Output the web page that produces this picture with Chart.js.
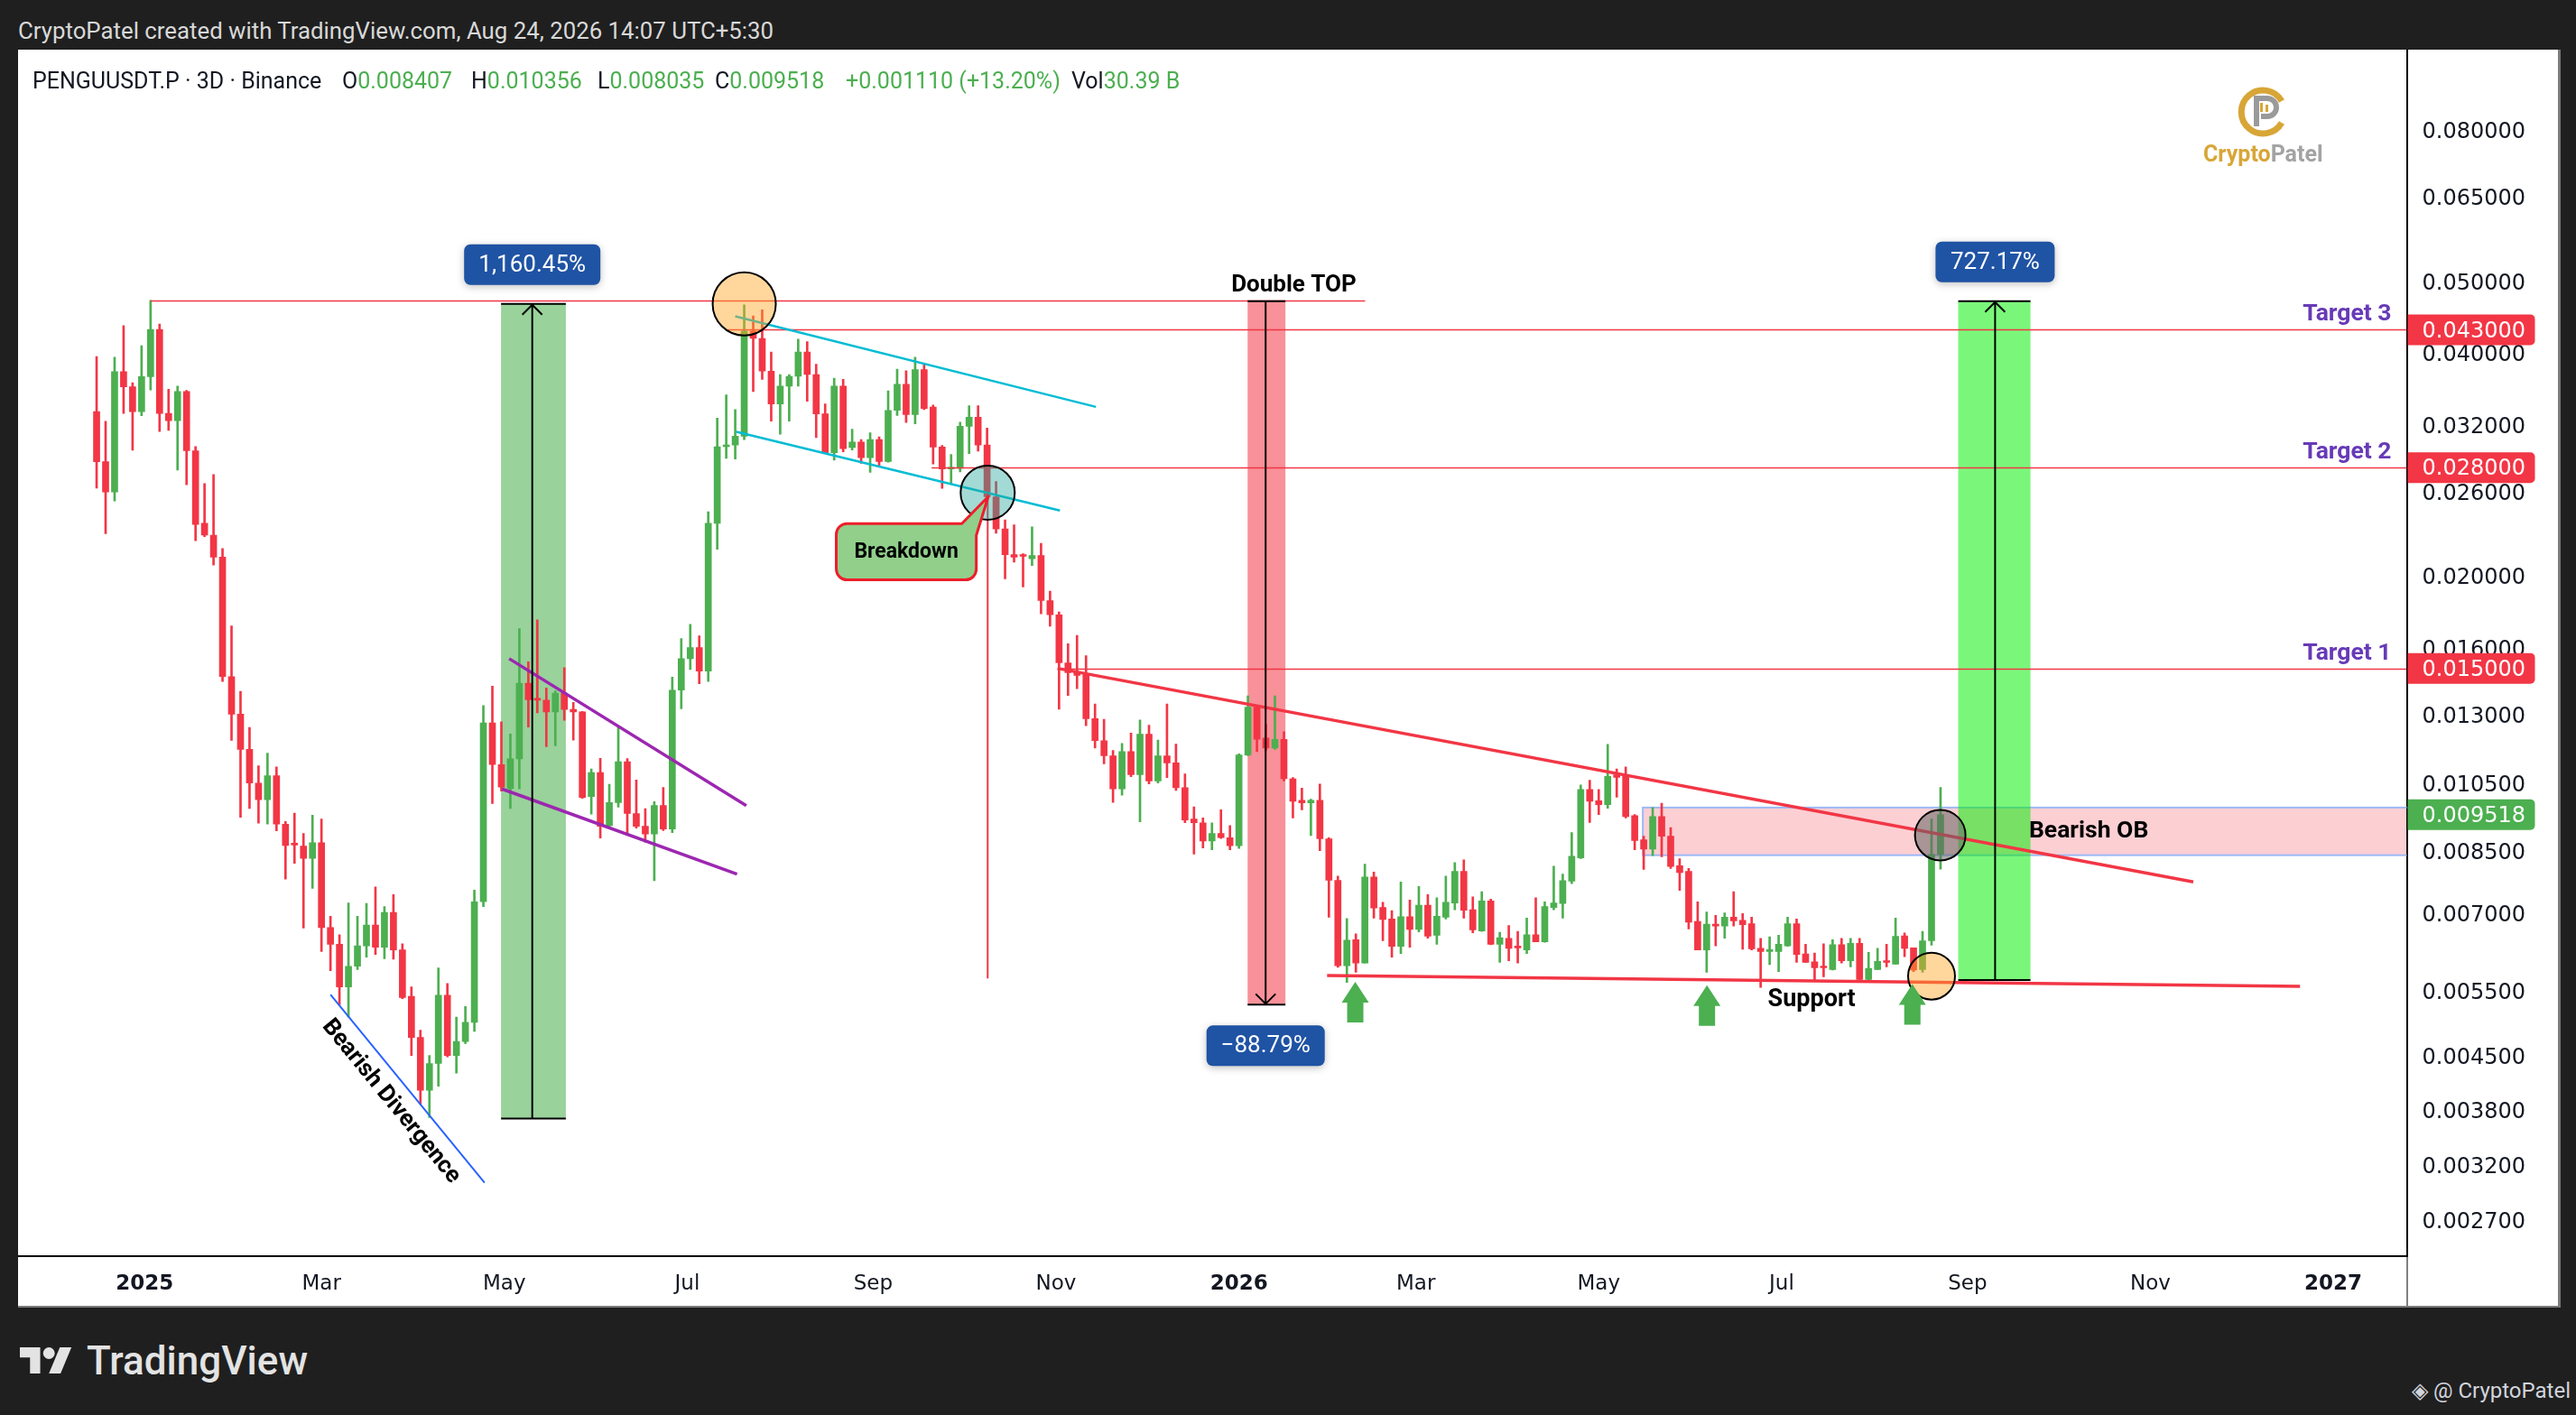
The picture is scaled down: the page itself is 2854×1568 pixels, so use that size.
<!DOCTYPE html>
<html>
<head>
<meta charset="utf-8">
<title>PENGUUSDT.P · 3D · Binance</title>
<script src="https://cdn.jsdelivr.net/npm/chart.js@4.4.1/dist/chart.umd.min.js"></script>
<style>
  html, body { margin: 0; padding: 0; background: #1f1f1f; width: 2854px; height: 1568px; overflow: hidden; }
  body { font-family: Roboto, "Noto Sans", sans-serif; position: relative; }
  #head { position: absolute; left: 20px; top: 22px; color: #d8d8d8; font-size: 25.8px; line-height: 25px; white-space: nowrap; }
  #frame { position: absolute; left: 20px; top: 55px; width: 2814px; height: 1392px; background: #fff;
           border-right: 3px solid #7a7a7a; border-bottom: 2px solid #7a7a7a; }
  #chart { position: absolute; left: 0; top: 0; }
  .lg { position: absolute; top: 22px; font-size: 25px; line-height: 25px; color: #131722; white-space: nowrap; }
  .g { color: #4caf50; }
  #brand { position: absolute; left: 2421px; top: 103px; font: bold 25px Roboto, sans-serif; line-height: 25px; }
  #coin { position: absolute; left: 2458px; top: 39px; }
  #tv { position: absolute; left: 22px; top: 1486px; color: #e3e3e3; font-size: 44px; font-weight: 500; line-height: 44px; }
  #tv svg { position: absolute; left: 0; top: 7px; }
  #tv span { position: absolute; left: 74px; top: 0; white-space: nowrap; }
  #author { position: absolute; right: 6px; top: 1529px; color: #d1d4dc; font-size: 24px; line-height: 24px; white-space: nowrap; }
</style>
</head>
<body>
<div id="head">CryptoPatel created with TradingView.com, Aug 24, 2026 14:07 UTC+5:30</div>
<div id="frame">
  <canvas id="chart" width="2814" height="1392"></canvas>
  <div class="lg" style="left:16px">PENGUUSDT.P · 3D · Binance</div>
  <div class="lg" style="left:359px">O<span class="g">0.008407</span></div>
  <div class="lg" style="left:502px">H<span class="g">0.010356</span></div>
  <div class="lg" style="left:642px">L<span class="g">0.008035</span></div>
  <div class="lg" style="left:772px">C<span class="g">0.009518</span></div>
  <div class="lg g" style="left:917px">+0.001110 (+13.20%)</div>
  <div class="lg" style="left:1167px">Vol<span class="g">30.39 B</span></div>
  <svg id="coin" width="60" height="60" viewBox="0 0 60 60">
    <path d="M50 18 A24 24 0 1 0 50 42" fill="none" stroke="#d8a637" stroke-width="7"/>
    <path d="M22 46 V15 H34 A10 10 0 0 1 34 35 H27" fill="none" stroke="#9a9a9a" stroke-width="6"/>
    <rect x="26" y="20" width="3" height="10" fill="#d8a637"/>
    <rect x="32" y="22" width="3" height="8" fill="#d8a637"/>
  </svg>
  <div id="brand"><span style="color:#d8a637">Crypto</span><span style="color:#a3a3a3">Patel</span></div>
</div>
<div id="tv">
  <svg width="58" height="29" viewBox="0 4 36 18" preserveAspectRatio="none">
    <path d="M14 22H7V11H0V4h14v18zM28 22h-8l7.5-18h8L28 22z" fill="#e3e3e3"/>
    <circle cx="20" cy="8" r="4" fill="#e3e3e3"/>
  </svg>
  <span>TradingView</span>
</div>
<div id="author">◈ @ CryptoPatel</div>

<script>
// 3D candles, first candle on this date, one candle every 3 days
const startDate = '2024-12-16';
const stepDays = 3;

const opens = [
  0.03334, 0.02852, 0.02597, 0.03774, 0.03601, 0.03334, 0.03717, 0.04304, 0.03315, 0.03241,
  0.03548, 0.02951, 0.02355, 0.02270, 0.02120, 0.01462, 0.01301, 0.01166, 0.01050, 0.00997,
  0.01074, 0.00924, 0.00870, 0.00863, 0.00831, 0.00872, 0.00670, 0.00636, 0.00557, 0.00594,
  0.00633, 0.00675, 0.00630, 0.00702, 0.00625, 0.00541, 0.00476, 0.00404, 0.00439, 0.00543,
  0.00450, 0.00470, 0.00499, 0.00726, 0.01266, 0.01112, 0.01032, 0.01132, 0.01432, 0.01364,
  0.01359, 0.01310, 0.01389, 0.01320, 0.01310, 0.01007, 0.01085, 0.00920, 0.00988, 0.01122,
  0.00955, 0.00918, 0.00896, 0.00979, 0.00910, 0.01402, 0.01546, 0.01600, 0.01487, 0.02355,
  0.02989, 0.03004, 0.03088, 0.04283, 0.04186, 0.03781, 0.03414, 0.03608, 0.03720, 0.04011,
  0.03741, 0.03310, 0.02934, 0.03608, 0.02981, 0.03032, 0.02888, 0.03055, 0.02855, 0.03346,
  0.03630, 0.03302, 0.03799, 0.03382, 0.02985, 0.02788, 0.02795, 0.03184, 0.03275, 0.03004,
  0.02558, 0.02314, 0.02136, 0.02131, 0.02109, 0.02131, 0.01852, 0.01772, 0.01526, 0.01480,
  0.01474, 0.01283, 0.01198, 0.01143, 0.01031, 0.01158, 0.01078, 0.01222, 0.01057, 0.01143,
  0.01118, 0.01035, 0.00939, 0.00928, 0.00877, 0.00898, 0.00886, 0.00864, 0.01146, 0.01330,
  0.01208, 0.01171, 0.01203, 0.01064, 0.00995, 0.00987, 0.00995, 0.00883, 0.00776, 0.00595,
  0.00645, 0.00600, 0.00784, 0.00713, 0.00688, 0.00632, 0.00693, 0.00666, 0.00718, 0.00654,
  0.00692, 0.00723, 0.00798, 0.00708, 0.00663, 0.00728, 0.00636, 0.00648, 0.00632, 0.00625,
  0.00655, 0.00641, 0.00713, 0.00722, 0.00774, 0.00832, 0.01029, 0.00994, 0.00982, 0.01077,
  0.01074, 0.00949, 0.00880, 0.00855, 0.00946, 0.00890, 0.00812, 0.00798, 0.00683, 0.00625,
  0.00677, 0.00673, 0.00692, 0.00685, 0.00678, 0.00628, 0.00622, 0.00622, 0.00633, 0.00678,
  0.00617, 0.00602, 0.00593, 0.00588, 0.00635, 0.00604, 0.00638, 0.00570, 0.00588, 0.00604,
  0.00598, 0.00653, 0.00629, 0.00588, 0.00643, 0.008407
];
const highs = [
  0.03955, 0.03235, 0.03948, 0.04354, 0.03648, 0.04091, 0.04711, 0.04378, 0.03574, 0.03608,
  0.03560, 0.02990, 0.02666, 0.02742, 0.02177, 0.01712, 0.01397, 0.01248, 0.01108, 0.01152,
  0.01104, 0.00932, 0.00956, 0.00898, 0.00950, 0.00939, 0.00694, 0.00655, 0.00723, 0.00694,
  0.00722, 0.00760, 0.00715, 0.00742, 0.00637, 0.00557, 0.00487, 0.00450, 0.00591, 0.00563,
  0.00507, 0.00524, 0.00753, 0.01336, 0.01419, 0.01270, 0.01223, 0.01697, 0.01531, 0.01744,
  0.01411, 0.01399, 0.01503, 0.01349, 0.01312, 0.01097, 0.01134, 0.01046, 0.01248, 0.01133,
  0.01060, 0.00970, 0.00991, 0.01036, 0.01460, 0.01646, 0.01720, 0.01660, 0.02442, 0.03267,
  0.03511, 0.03355, 0.04647, 0.04489, 0.04574, 0.04011, 0.03741, 0.03741, 0.04176, 0.04145,
  0.03864, 0.03414, 0.03699, 0.03685, 0.03156, 0.03055, 0.03120, 0.03081, 0.03556, 0.03803,
  0.03784, 0.03947, 0.03855, 0.03402, 0.03000, 0.02917, 0.03225, 0.03394, 0.03394, 0.03168,
  0.02683, 0.02380, 0.02344, 0.02142, 0.02330, 0.02213, 0.01907, 0.01788, 0.01620, 0.01662,
  0.01560, 0.01343, 0.01280, 0.01162, 0.01188, 0.01227, 0.01278, 0.01257, 0.01200, 0.01343,
  0.01185, 0.01080, 0.00975, 0.00942, 0.00928, 0.00966, 0.00920, 0.01150, 0.01377, 0.01333,
  0.01261, 0.01377, 0.01232, 0.01068, 0.01034, 0.00999, 0.01047, 0.00886, 0.00786, 0.00689,
  0.00657, 0.00816, 0.00796, 0.00725, 0.00706, 0.00772, 0.00730, 0.00761, 0.00742, 0.00735,
  0.00786, 0.00820, 0.00827, 0.00737, 0.00749, 0.00732, 0.00660, 0.00674, 0.00662, 0.00690,
  0.00735, 0.00726, 0.00811, 0.00791, 0.00900, 0.01044, 0.01059, 0.01029, 0.01184, 0.01097,
  0.01104, 0.00952, 0.00890, 0.00973, 0.00986, 0.00914, 0.00830, 0.00805, 0.00726, 0.00703,
  0.00696, 0.00701, 0.00749, 0.00700, 0.00692, 0.00648, 0.00651, 0.00654, 0.00692, 0.00688,
  0.00636, 0.00619, 0.00637, 0.00645, 0.00648, 0.00648, 0.00648, 0.00620, 0.00628, 0.00636,
  0.00690, 0.00659, 0.00629, 0.00662, 0.00939, 0.010356
];
const lows = [
  0.02627, 0.02281, 0.02525, 0.03315, 0.02956, 0.03291, 0.03566, 0.03134, 0.03145, 0.02779,
  0.02656, 0.02231, 0.02259, 0.02069, 0.01440, 0.01199, 0.00944, 0.00970, 0.00927, 0.00924,
  0.00905, 0.00779, 0.00818, 0.00669, 0.00757, 0.00622, 0.00586, 0.00527, 0.00507, 0.00588,
  0.00611, 0.00616, 0.00608, 0.00607, 0.00537, 0.00450, 0.00387, 0.00371, 0.00409, 0.00448,
  0.00426, 0.00467, 0.00485, 0.00715, 0.00985, 0.01024, 0.00970, 0.01031, 0.01250, 0.01306,
  0.01176, 0.01179, 0.01276, 0.01200, 0.01001, 0.00953, 0.00885, 0.00913, 0.00974, 0.00893,
  0.00913, 0.00874, 0.00775, 0.00906, 0.00900, 0.01323, 0.01495, 0.01430, 0.01440, 0.02172,
  0.02882, 0.02876, 0.03055, 0.03548, 0.03684, 0.03235, 0.03107, 0.03235, 0.03608, 0.03443,
  0.03074, 0.02927, 0.02866, 0.02941, 0.02959, 0.02838, 0.02760, 0.02814, 0.02848, 0.03294,
  0.03223, 0.03208, 0.03355, 0.02832, 0.02625, 0.02659, 0.02763, 0.02925, 0.02948, 0.02538,
  0.02284, 0.01982, 0.02087, 0.01932, 0.02066, 0.01777, 0.01710, 0.01321, 0.01379, 0.01408,
  0.01255, 0.01171, 0.01115, 0.00989, 0.01011, 0.01071, 0.00931, 0.01047, 0.01050, 0.01068,
  0.01026, 0.00928, 0.00842, 0.00858, 0.00853, 0.00884, 0.00853, 0.00857, 0.01143, 0.01158,
  0.01162, 0.01166, 0.01057, 0.00942, 0.00966, 0.00892, 0.00851, 0.00692, 0.00592, 0.00565,
  0.00583, 0.00600, 0.00690, 0.00643, 0.00611, 0.00618, 0.00630, 0.00661, 0.00648, 0.00636,
  0.00688, 0.00708, 0.00690, 0.00659, 0.00662, 0.00635, 0.00601, 0.00604, 0.00600, 0.00618,
  0.00641, 0.00640, 0.00708, 0.00690, 0.00768, 0.00830, 0.00929, 0.00952, 0.00971, 0.01005,
  0.00942, 0.00853, 0.00803, 0.00838, 0.00835, 0.00805, 0.00752, 0.00667, 0.00625, 0.00583,
  0.00633, 0.00648, 0.00673, 0.00626, 0.00625, 0.00556, 0.00597, 0.00584, 0.00632, 0.00601,
  0.00601, 0.00567, 0.00575, 0.00587, 0.00600, 0.00593, 0.00567, 0.00569, 0.00588, 0.00593,
  0.00598, 0.00612, 0.00584, 0.00583, 0.00634, 0.008035
];
const closes = [
  0.02852, 0.02597, 0.03774, 0.03601, 0.03334, 0.03717, 0.04304, 0.03315, 0.03241, 0.03548,
  0.02951, 0.02346, 0.02270, 0.02120, 0.01462, 0.01301, 0.01166, 0.01050, 0.00997, 0.01074,
  0.00924, 0.00865, 0.00866, 0.00831, 0.00872, 0.00670, 0.00636, 0.00557, 0.00594, 0.00633,
  0.00675, 0.00630, 0.00702, 0.00625, 0.00539, 0.00476, 0.00404, 0.00439, 0.00543, 0.00450,
  0.00470, 0.00499, 0.00726, 0.01266, 0.01112, 0.01037, 0.01132, 0.01432, 0.01361, 0.01359,
  0.01310, 0.01389, 0.01320, 0.01310, 0.01004, 0.01085, 0.00918, 0.00988, 0.01122, 0.00955,
  0.00918, 0.00896, 0.00979, 0.00910, 0.01402, 0.01546, 0.01600, 0.01487, 0.02355, 0.02989,
  0.03004, 0.03088, 0.04283, 0.04186, 0.03781, 0.03414, 0.03608, 0.03720, 0.04011, 0.03741,
  0.03310, 0.02934, 0.03608, 0.02970, 0.03032, 0.02888, 0.03055, 0.02855, 0.03346, 0.03630,
  0.03302, 0.03799, 0.03366, 0.02985, 0.02788, 0.02795, 0.03184, 0.03275, 0.03004, 0.02558,
  0.02314, 0.02136, 0.02120, 0.02125, 0.02131, 0.01852, 0.01772, 0.01526, 0.01480, 0.01468,
  0.01283, 0.01198, 0.01143, 0.01031, 0.01158, 0.01078, 0.01222, 0.01057, 0.01143, 0.01118,
  0.01035, 0.00936, 0.00928, 0.00877, 0.00898, 0.00886, 0.00864, 0.01146, 0.01330, 0.01203,
  0.01171, 0.01203, 0.01064, 0.00992, 0.00987, 0.00995, 0.00883, 0.00776, 0.00595, 0.00644,
  0.00600, 0.00784, 0.00712, 0.00687, 0.00632, 0.00693, 0.00666, 0.00718, 0.00652, 0.00694,
  0.00725, 0.00798, 0.00707, 0.00665, 0.00728, 0.00636, 0.00649, 0.00628, 0.00629, 0.00655,
  0.00641, 0.00715, 0.00723, 0.00775, 0.00836, 0.01029, 0.00992, 0.00982, 0.01072, 0.01069,
  0.00946, 0.00878, 0.00855, 0.00946, 0.00890, 0.00810, 0.00795, 0.00681, 0.00625, 0.00677,
  0.00673, 0.00692, 0.00684, 0.00676, 0.00627, 0.00622, 0.00625, 0.00636, 0.00678, 0.00616,
  0.00601, 0.00591, 0.00591, 0.00635, 0.00604, 0.00638, 0.00570, 0.00590, 0.00603, 0.00601,
  0.00652, 0.00628, 0.00587, 0.00643, 0.008407, 0.009518
];

// price axis ticks as printed on the chart
const yTicks = [0.0027, 0.0032, 0.0038, 0.0045, 0.0055, 0.007, 0.0085, 0.0105, 0.013,
                0.016, 0.02, 0.026, 0.032, 0.04, 0.05, 0.065, 0.08];
// time axis: days since 2025-01-01
const xTickDays = [0, 59, 120, 181, 243, 304, 365, 424, 485, 546, 608, 669, 730];
const xTickLabels = ['2025', 'Mar', 'May', 'Jul', 'Sep', 'Nov', '2026', 'Mar', 'May', 'Jul', 'Sep', 'Nov', '2027'];

// drawings (day, price)
const athLine = {price: 0.0471, from: 2.0, to: 407.1};
const targets = [
  {label: 'Target 3', price: 0.043, from: 194.4},
  {label: 'Target 2', price: 0.028, from: 262.5},
  {label: 'Target 1', price: 0.015, from: 304.5}
];
const lastPrice = 0.009518;
const ranges = [
  {from: 118.9, to: 140.5, at: 129.3, low: 0.0037, high: 0.0466, dir: 'up', label: '1,160.45%', fill: 'rgba(76,175,80,0.57)', w: 151},
  {from: 367.9, to: 380.5, at: 373.9, low: 0.00527, high: 0.0470, dir: 'down', label: '\u221288.79%', fill: 'rgba(242,54,69,0.55)', w: 131},
  {from: 604.9, to: 629.0, at: 617.2, low: 0.00569, high: 0.0470, dir: 'up', label: '727.17%', fill: 'rgba(0,240,0,0.52)', w: 132}
];
const obZone = {from: 499.7, top: 0.00973, bottom: 0.00839, label: 'Bearish OB', labelAt: 628.5};
const segments = [
  {d1: 304.5, p1: 0.0150, d2: 683.3, p2: 0.00772, color: '#f23645', w: 3.5},
  {d1: 394.4, p1: 0.00577, d2: 718.9, p2: 0.00558, color: '#f23645', w: 3.5},
  {d1: 121.6, p1: 0.01546, d2: 200.7, p2: 0.00979, color: '#9c27b0', w: 3.5},
  {d1: 119.2, p1: 0.01031, d2: 197.6, p2: 0.00791, color: '#9c27b0', w: 3.5},
  {d1: 197.0, p1: 0.04483, d2: 317.3, p2: 0.03383, color: '#00bcd4', w: 2.5},
  {d1: 197.4, p1: 0.0313, d2: 305.3, p2: 0.0245, color: '#00bcd4', w: 2.5},
  {d1: 62.0, p1: 0.00544, d2: 113.4, p2: 0.00303, color: '#2962ff', w: 2},
  {d1: 281.2, p1: 0.0259, d2: 281.2, p2: 0.00572, color: '#f23645', w: 2}
];
const circles = [
  {d: 200.0, p: 0.0466, r: 35, fill: 'rgba(255,167,38,0.45)'},
  {d: 281.2, p: 0.02591, r: 30, fill: 'rgba(38,166,154,0.42)'},
  {d: 598.9, p: 0.00893, r: 28, fill: 'rgba(100,100,100,0.55)'},
  {d: 596.0, p: 0.00576, r: 26, fill: 'rgba(255,167,38,0.45)'}
];
const upArrows = [{d: 403.8, p: 0.00566}, {d: 521.1, p: 0.00560}, {d: 589.6, p: 0.00562}];
const callout = {d1: 230.7, d2: 277.4, p1: 0.02353, p2: 0.01975, tipD: 281.4, tipP: 0.0256, text: 'Breakdown'};
const notes = [
  {text: 'Double TOP', d: 383.3, p: 0.0471, dy: -10, size: 26},
  {text: 'Support', d: 556, p: 0.00525, dy: 0, size: 27}
];
const divergence = {text: 'Bearish Divergence', d: 82.2, p: 0.0039, line: 6};

const GREEN = '#4caf50', RED = '#f23645';
const FONT_AXIS = 'DejaVu Sans';
const day0 = (Date.parse(startDate) - Date.parse('2025-01-01')) / 864e5;
const days = opens.map((_, i) => day0 + i * stepDays);
const colors = closes.map((c, i) => c >= opens[i] ? GREEN : RED);

function roundRect(ctx, x, y, w, h, r) {
  ctx.beginPath();
  ctx.moveTo(x + r, y);
  ctx.arcTo(x + w, y, x + w, y + h, r);
  ctx.arcTo(x + w, y + h, x, y + h, r);
  ctx.arcTo(x, y + h, x, y, r);
  ctx.arcTo(x, y, x + w, y, r);
  ctx.closePath();
}

const drawings = {
  id: 'drawings',
  beforeDatasetsDraw(chart) {
    const {ctx, chartArea: a, scales: {x, y}} = chart;
    const X = d => x.getPixelForValue(d), Y = p => y.getPixelForValue(p);
    ctx.save();
    ctx.beginPath(); ctx.rect(a.left, a.top, a.right - a.left, a.bottom - a.top); ctx.clip();
    const zx = X(obZone.from), zt = Y(obZone.top), zb = Y(obZone.bottom);
    ctx.fillStyle = 'rgba(242,54,69,0.24)';
    ctx.fillRect(zx, zt, a.right - zx, zb - zt);
    ctx.strokeStyle = '#9db9f7'; ctx.lineWidth = 2;
    ctx.strokeRect(zx, zt, a.right - zx + 10, zb - zt);
    ranges.forEach(r => {
      ctx.fillStyle = r.fill;
      ctx.fillRect(X(r.from), Y(r.high), X(r.to) - X(r.from), Y(r.low) - Y(r.high));
    });
    ctx.restore();
  },
  afterDatasetsDraw(chart) {
    const {ctx, chartArea: a, scales: {x, y}} = chart;
    const X = d => x.getPixelForValue(d), Y = p => y.getPixelForValue(p);
    ctx.save();
    ctx.beginPath(); ctx.rect(a.left, a.top, a.right - a.left, a.bottom - a.top); ctx.clip();
    ctx.lineCap = 'butt';

    // horizontal levels
    ctx.strokeStyle = RED; ctx.lineWidth = 1.5;
    [[athLine.price, athLine.from, athLine.to]].concat(targets.map(t => [t.price, t.from, 800])).forEach(([p, d1, d2]) => {
      const yy = Math.round(Y(p)) + 0.5;
      ctx.beginPath(); ctx.moveTo(X(d1), yy); ctx.lineTo(Math.min(X(d2), a.right), yy); ctx.stroke();
    });

    // trend lines
    segments.forEach(s => {
      ctx.strokeStyle = s.color; ctx.lineWidth = s.w;
      ctx.beginPath(); ctx.moveTo(X(s.d1), Y(s.p1)); ctx.lineTo(X(s.d2), Y(s.p2)); ctx.stroke();
    });

    // price range tools
    ranges.forEach(r => {
      const x1 = X(r.from), x2 = X(r.to), xa = X(r.at), yt = Y(r.high), yb = Y(r.low);
      ctx.strokeStyle = '#000'; ctx.lineWidth = 2;
      ctx.beginPath();
      ctx.moveTo(x1, yt); ctx.lineTo(x2, yt);
      ctx.moveTo(x1, yb); ctx.lineTo(x2, yb);
      ctx.moveTo(xa, yt); ctx.lineTo(xa, yb);
      const tipY = r.dir === 'up' ? yt + 1 : yb - 1, k = r.dir === 'up' ? 1 : -1;
      ctx.moveTo(xa - 11, tipY + 11 * k); ctx.lineTo(xa, tipY); ctx.lineTo(xa + 11, tipY + 11 * k);
      ctx.stroke();
      const bh = 45, by = r.dir === 'up' ? yt - 21 - bh : yb + 23;
      ctx.save();
      ctx.shadowColor = 'rgba(0,0,0,0.25)'; ctx.shadowBlur = 8; ctx.shadowOffsetY = 2;
      ctx.fillStyle = '#1f53a4';
      roundRect(ctx, xa - r.w / 2, by, r.w, bh, 7); ctx.fill();
      ctx.restore();
      ctx.fillStyle = '#fff'; ctx.font = '26px Roboto'; ctx.textAlign = 'center'; ctx.textBaseline = 'middle';
      ctx.fillText(r.label, xa, by + bh / 2 + 1);
    });

    // circles
    circles.forEach(c => {
      ctx.beginPath(); ctx.arc(X(c.d), Y(c.p), c.r, 0, Math.PI * 2);
      ctx.fillStyle = c.fill; ctx.fill();
      ctx.strokeStyle = '#000'; ctx.lineWidth = 2; ctx.stroke();
    });

    // up arrows
    ctx.fillStyle = GREEN;
    upArrows.forEach(u => {
      const cx = X(u.d), ty = Y(u.p);
      ctx.beginPath();
      ctx.moveTo(cx, ty);
      ctx.lineTo(cx + 15, ty + 23); ctx.lineTo(cx + 9, ty + 23); ctx.lineTo(cx + 9, ty + 45);
      ctx.lineTo(cx - 9, ty + 45); ctx.lineTo(cx - 9, ty + 23); ctx.lineTo(cx - 15, ty + 23);
      ctx.closePath(); ctx.fill();
    });

    // breakdown callout
    {
      const L = X(callout.d1), R = X(callout.d2), T = Y(callout.p1), B = Y(callout.p2);
      const tx = X(callout.tipD), ty = Y(callout.tipP), rr = 12;
      ctx.beginPath();
      ctx.moveTo(L + rr, T);
      ctx.lineTo(R - 16, T);
      ctx.lineTo(tx, ty);
      ctx.lineTo(R, T + 13);
      ctx.lineTo(R, B - rr);
      ctx.arcTo(R, B, R - rr, B, rr);
      ctx.lineTo(L + rr, B);
      ctx.arcTo(L, B, L, B - rr, rr);
      ctx.lineTo(L, T + rr);
      ctx.arcTo(L, T, L + rr, T, rr);
      ctx.closePath();
      ctx.fillStyle = '#91cf8b'; ctx.fill();
      ctx.strokeStyle = '#ee1d2b'; ctx.lineWidth = 3; ctx.lineJoin = 'round'; ctx.stroke();
      ctx.fillStyle = '#000'; ctx.font = 'bold 23px Roboto'; ctx.textAlign = 'center'; ctx.textBaseline = 'middle';
      ctx.fillText(callout.text, (L + R) / 2, (T + B) / 2 + 1);
    }

    // texts
    ctx.fillStyle = '#000'; ctx.textAlign = 'center'; ctx.textBaseline = 'alphabetic';
    notes.forEach(n => {
      ctx.font = 'bold ' + n.size + 'px Roboto';
      ctx.fillText(n.text, X(n.d), Y(n.p) + n.dy);
    });
    ctx.font = 'bold 26.5px Roboto'; ctx.textAlign = 'left'; ctx.textBaseline = 'middle';
    ctx.fillText(obZone.label, X(obZone.labelAt), Y((obZone.top * obZone.bottom) ** 0.5));

    {
      const s = segments[divergence.line];
      const ang = Math.atan2(Y(s.p2) - Y(s.p1), X(s.d2) - X(s.d1));
      ctx.save();
      ctx.translate(X(divergence.d), Y(divergence.p));
      ctx.rotate(ang);
      ctx.font = 'bold 26px Roboto'; ctx.textAlign = 'center'; ctx.textBaseline = 'middle';
      ctx.fillText(divergence.text, 0, 0);
      ctx.restore();
    }

    ctx.fillStyle = '#673ab7'; ctx.font = 'bold 26.5px Roboto'; ctx.textAlign = 'right'; ctx.textBaseline = 'alphabetic';
    targets.forEach(t => ctx.fillText(t.label, a.right - 17, Y(t.price) - 10));
    ctx.restore();
  },
  afterDraw(chart) {
    const {ctx, chartArea: a, scales: {y}} = chart;
    ctx.save();
    ctx.strokeStyle = '#000'; ctx.lineWidth = 1;
    ctx.beginPath(); ctx.moveTo(a.right + 0.5, a.bottom); ctx.lineTo(a.right + 0.5, chart.height); ctx.stroke();
    const tags = targets.map(t => ({p: t.price, c: RED})).concat([{p: lastPrice, c: GREEN}]);
    tags.forEach(t => {
      const yy = y.getPixelForValue(t.p), h = 34, w = 141, x0 = a.right + 1;
      ctx.fillStyle = t.c;
      ctx.beginPath();
      ctx.moveTo(x0, yy - h / 2); ctx.lineTo(x0 + w - 5, yy - h / 2);
      ctx.arcTo(x0 + w, yy - h / 2, x0 + w, yy + h / 2, 5);
      ctx.arcTo(x0 + w, yy + h / 2, x0, yy + h / 2, 5);
      ctx.lineTo(x0, yy + h / 2); ctx.closePath(); ctx.fill();
      ctx.fillStyle = '#fff'; ctx.font = '24px ' + FONT_AXIS; ctx.textAlign = 'left'; ctx.textBaseline = 'middle';
      ctx.fillText(t.p.toFixed(6), a.right + 17, yy + 2);
    });
    ctx.restore();
  }
};

Chart.defaults.font.family = FONT_AXIS;
Chart.defaults.color = '#131722';

new Chart(document.getElementById('chart'), {
  type: 'bar',
  data: {
    datasets: [
      {label: 'body', data: days.map((d, i) => ({x: d, y: [opens[i], closes[i]]})),
       backgroundColor: colors, barThickness: 7, minBarLength: 2, grouped: false, borderWidth: 0},
      {label: 'wick', data: days.map((d, i) => ({x: d, y: [lows[i], highs[i]]})),
       backgroundColor: colors, barThickness: 2, grouped: false, borderWidth: 0}
    ]
  },
  options: {
    responsive: false,
    animation: false,
    events: [],
    layout: {padding: 0, autoPadding: false},
    plugins: {legend: {display: false}, tooltip: {enabled: false}},
    scales: {
      x: {
        type: 'linear', min: -42.2, max: 754.5, offset: false, bounds: 'data',
        grid: {display: false, drawTicks: false},
        border: {display: true, color: '#000', width: 2},
        afterBuildTicks: s => { s.ticks = xTickDays.map(v => ({value: v})); },
        afterFit: s => { s.height = 55; s.paddingLeft = 0; s.paddingRight = 0; },
        ticks: {
          autoSkip: false, maxRotation: 0, padding: 17, color: '#131722',
          callback: v => xTickLabels[xTickDays.indexOf(v)],
          font: c => ({family: FONT_AXIS, size: 23, weight: /^\d{4}$/.test(xTickLabels[c.index] || '') ? 'bold' : 'normal'})
        }
      },
      y: {
        type: 'logarithmic', position: 'right', min: 0.002411, max: 0.10275, bounds: 'data',
        grid: {display: false, drawTicks: false},
        border: {display: true, color: '#000', width: 2},
        afterBuildTicks: s => { s.ticks = yTicks.map(v => ({value: v})); },
        afterFit: s => { s.width = 167.5; s.paddingTop = 0; s.paddingBottom = 0; },
        ticks: {
          autoSkip: false, padding: 17, labelOffset: 3, color: '#131722', font: {family: FONT_AXIS, size: 24},
          callback: v => Number(v).toFixed(6)
        }
      }
    }
  },
  plugins: [drawings]
});
</script>
</body>
</html>
